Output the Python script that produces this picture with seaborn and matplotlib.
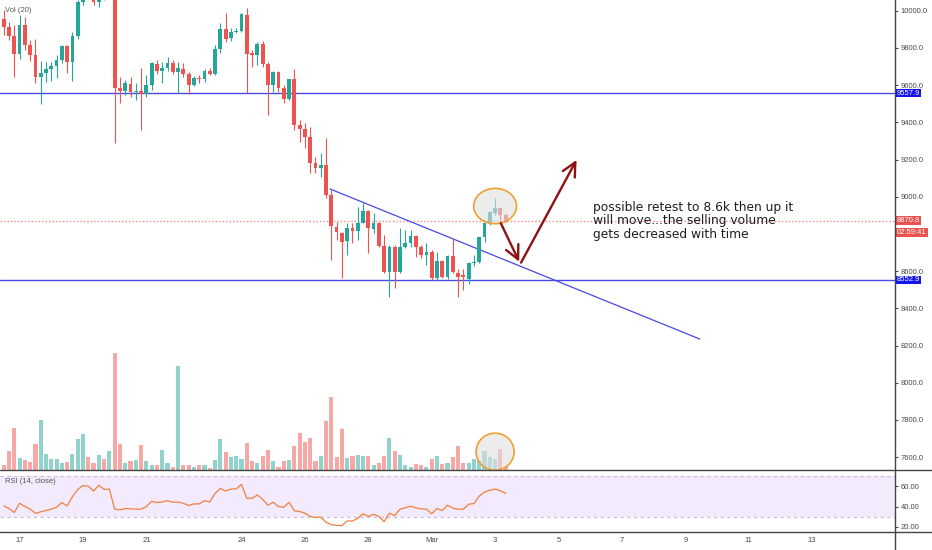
import numpy as np
import pandas as pd
import matplotlib.pyplot as plt
from matplotlib.patches import Ellipse
from matplotlib.lines import Line2D
import seaborn as sns

# ==========================================================
# BTC 4h candles, 16 Feb 12:00 -> 3 Mar 08:00
# ==========================================================

start_time = "2020-02-16 12:00"

opens = [
    9956, 9913, 9864, 9768, 9924, 9816, 9762, 9644, 9666, 9687,
    9703, 9735, 9811, 9725, 9864, 10047, 10090, 10085, 10049, 10080,
    10065, 10095, 9585, 9569, 9606, 9563, 9569, 9553, 9601, 9714,
    9676, 9692, 9719, 9671, 9687, 9660, 9601, 9639, 9633, 9676,
    9660, 9795, 9902, 9854, 9886, 9891, 9977, 9773, 9762, 9821,
    9714, 9601, 9671, 9585, 9526, 9633, 9386, 9365, 9324, 9183,
    9153, 9171, 9010, 8839, 8807, 8762, 8831, 8818, 8861, 8924,
    8825, 8861, 8737, 8594, 8732, 8594, 8732, 8750, 8789, 8732,
    8687, 8705, 8562, 8655, 8570, 8682, 8592, 8580, 8556, 8643,
    8651, 8782, 8858, 8911, 8938, 8902,
]
highs = [
    10004, 9940, 9924, 9977, 9967, 9843, 9848, 9730, 9725, 9725,
    9762, 9816, 9815, 9886, 10058, 10112, 10130, 10122, 10110, 10120,
    10140, 10150, 9644, 9628, 9644, 9612, 9692, 9655, 9725, 9735,
    9725, 9752, 9735, 9725, 9719, 9671, 9649, 9655, 9687, 9692,
    9816, 9934, 9988, 9907, 9907, 9988, 10015, 9789, 9832, 9838,
    9725, 9675, 9675, 9601, 9635, 9687, 9413, 9397, 9377, 9216,
    9235, 9316, 9037, 8866, 8810, 8858, 8858, 8947, 8965, 8929,
    8911, 8865, 8795, 8741, 8741, 8831, 8821, 8821, 8795, 8741,
    8752, 8714, 8705, 8660, 8687, 8777, 8610, 8610, 8651, 8687,
    8785, 8866, 8922, 8992, 8947, 8911,
]
lows = [
    9870, 9843, 9644, 9741, 9789, 9730, 9612, 9499, 9617, 9623,
    9639, 9719, 9666, 9623, 9848, 10031, 10070, 10031, 10020, 10060,
    10062, 9289, 9504, 9547, 9536, 9520, 9359, 9536, 9574, 9660,
    9612, 9676, 9660, 9558, 9644, 9553, 9596, 9612, 9617, 9655,
    9655, 9773, 9832, 9838, 9881, 9886, 9558, 9698, 9709, 9698,
    9440, 9563, 9563, 9504, 9520, 9359, 9295, 9262, 9128, 9126,
    9108, 8994, 8660, 8768, 8562, 8687, 8750, 8768, 8858, 8696,
    8804, 8730, 8589, 8463, 8508, 8590, 8725, 8732, 8678, 8671,
    8633, 8553, 8553, 8563, 8556, 8592, 8463, 8499, 8531, 8628,
    8644, 8759, 8848, 8902, 8858, 8862,
]
closes = [
    9913, 9864, 9768, 9924, 9816, 9762, 9644, 9666, 9687, 9703,
    9735, 9811, 9725, 9864, 10047, 10090, 10085, 10049, 10080, 10065,
    10095, 9585, 9569, 9612, 9563, 9569, 9553, 9601, 9719, 9676,
    9692, 9719, 9671, 9692, 9660, 9601, 9639, 9633, 9676, 9660,
    9795, 9902, 9848, 9886, 9891, 9983, 9768, 9762, 9821, 9714,
    9601, 9671, 9585, 9526, 9633, 9386, 9365, 9324, 9183, 9153,
    9171, 9010, 8843, 8812, 8759, 8831, 8818, 8861, 8924, 8831,
    8861, 8737, 8594, 8732, 8594, 8732, 8750, 8789, 8732, 8687,
    8705, 8562, 8655, 8570, 8682, 8597, 8570, 8567, 8643, 8651,
    8782, 8858, 8920, 8938, 8902, 8870.8,
]
volumes = [
    15, 57, 125, 35, 30, 24, 78, 150, 47, 33,
    32, 20, 24, 47, 92, 109, 38, 21, 45, 34,
    57, 350, 78, 21, 26, 30, 74, 26, 14, 14,
    61, 21, 9, 312, 14, 16, 9, 14, 14, 6,
    30, 93, 54, 40, 41, 32, 80, 26, 21, 43,
    60, 28, 10, 26, 30, 72, 110, 84, 96, 28,
    43, 147, 219, 39, 122, 36, 41, 45, 41, 42,
    16, 22, 41, 96, 57, 45, 14, 10, 18, 16,
    9, 32, 42, 18, 22, 40, 71, 22, 20, 32,
    28, 58, 39, 34, 62, 10,
]
rsi = [
    40.7, 38.1, 34.2, 43.3, 40.1, 37.5, 33.3, 34.9, 36.2, 37.5,
    39.4, 44.0, 40.7, 49.8, 57.0, 60.9, 60.2, 55.4, 61.2, 57.0,
    57.3, 37.5, 36.8, 38.1, 37.8, 37.5, 37.5, 40.1, 45.3, 44.0,
    44.6, 45.9, 44.3, 44.6, 43.3, 41.1, 42.7, 42.7, 45.9, 44.6,
    53.1, 58.0, 55.4, 57.3, 57.6, 61.9, 48.2, 48.2, 51.5, 47.2,
    41.4, 44.3, 40.1, 39.4, 44.3, 35.9, 35.2, 33.6, 30.3, 29.3,
    29.7, 24.5, 22.2, 21.5, 21.2, 25.8, 25.8, 28.4, 32.9, 30.3,
    32.3, 30.3, 25.1, 33.6, 31.0, 37.5, 38.8, 40.4, 38.8, 37.8,
    37.5, 32.9, 38.1, 36.2, 41.4, 38.5, 37.5, 37.5, 42.4, 43.0,
    50.5, 54.4, 56.3, 57.3, 55.7, 53.1,
]

tick_dates = [
    "2020-02-17", "2020-02-19", "2020-02-21", "2020-02-24", "2020-02-26",
    "2020-02-28", "2020-03-01", "2020-03-03", "2020-03-05", "2020-03-07",
    "2020-03-09", "2020-03-11", "2020-03-13",
]
tick_labels = ["17", "19", "21", "24", "26", "28", "Mar", "3", "5", "7", "9", "11", "13"]

price_ticks = [7600, 7800, 8000, 8200, 8400, 8600, 8800, 9000, 9200, 9400, 9600, 9800, 10000]
hidden_ticks = [8800]  # covered by the countdown tag

resistance = 9557.9
support = 8552.9
last_price = 8870.8
countdown = "02:59:41"

trend_dates = ["2020-02-26 19:00", "2020-03-09 11:00"]
trend_prices = [9042, 8235]

arrow_down = [("2020-03-03 04:20", 8858), ("2020-03-03 18:15", 8651)]
arrow_up = [("2020-03-03 19:40", 8646), ("2020-03-05 13:40", 9198)]

note = ("possible retest to 8.6k then up it\n"
        "will move...the selling volume\n"
        "gets decreased with time")
note_pos = ("2020-03-06 02:00", 8870)

# ==========================================================
# Style
# ==========================================================

sns.set_style("white")
plt.rcParams["font.family"] = ["Liberation Sans", "DejaVu Sans"]

GREEN = "#26a69a"
RED = "#ef5350"
BLUE = "#4848e8"
TEXT = "#4a4a4a"
ARROW = "#8e1111"

t0 = pd.Timestamp("2020-02-17")


def day(s):
    return (pd.Timestamp(s) - t0) / pd.Timedelta(days=1)


times = pd.date_range(start_time, periods=len(closes), freq="4h")
x = ((times - t0) / pd.Timedelta(days=1)).to_numpy()

o = np.array(opens, dtype=float)
h = np.array(highs, dtype=float)
l = np.array(lows, dtype=float)
c = np.array(closes, dtype=float)
up = c >= o
colors = np.where(up, GREEN, RED)

W, H = 932, 550
fig = plt.figure(figsize=(W / 100, H / 100), dpi=100)
fig.patch.set_facecolor("white")

main_rect = [0, 80 / H, 895 / W, 470 / H]
ax_vol = fig.add_axes(main_rect)
ax = fig.add_axes(main_rect, sharex=ax_vol)
ax_rsi = fig.add_axes([0, 18 / H, 895 / W, 62 / H], sharex=ax_vol)
ax.patch.set_alpha(0)

# ==========================================================
# Volume
# ==========================================================

ax_vol.bar(x, volumes, width=0.13, color=colors, alpha=0.5, lw=0)
ax_vol.set_ylim(0, 1410)
ax_vol.set_yticks([])
ax_vol.add_patch(Ellipse((day("2020-03-03"), 55), 1.2, 111,
                         facecolor=(0.88, 0.88, 0.88, 0.6),
                         edgecolor="#f0a030", lw=1.2, zorder=5))

# ==========================================================
# Candles
# ==========================================================

ax.axhline(resistance, color=BLUE, lw=1, zorder=1)
ax.axhline(support, color=BLUE, lw=1, zorder=1)
ax.axhline(last_price, color="#f08a86", lw=1, ls=(0, (1, 1.5)), zorder=1)

ax.vlines(x, l, h, colors=colors, lw=0.8, zorder=3)
body_low = np.minimum(o, c)
body_h = np.maximum(np.abs(c - o), 4)
ax.bar(x, body_h, bottom=body_low, width=0.12, color=colors, lw=0, zorder=3)

ax.plot([day(d) for d in trend_dates], trend_prices, color=BLUE, lw=0.9, zorder=2)

ax.add_patch(Ellipse((day("2020-03-03"), 8950), 1.35, 190,
                     facecolor=(0.88, 0.88, 0.88, 0.6),
                     edgecolor="#f0a030", lw=1.2, zorder=5))

for (d0, p0), (d1, p1) in [arrow_down, arrow_up]:
    ax.annotate("", xy=(day(d1), p1), xytext=(day(d0), p0),
                arrowprops=dict(arrowstyle="->,head_length=0.7,head_width=0.35",
                                color=ARROW, lw=1.7, shrinkA=0, shrinkB=0,
                                mutation_scale=14),
                zorder=6)

ax.text(day(note_pos[0]), note_pos[1], note, family="DejaVu Sans",
        fontsize=8.8, color="#1e1e1e", va="center", ha="left",
        linespacing=1.05, zorder=6)

ax.set_ylim(7531, 10058)
ax.yaxis.tick_right()
ax.set_yticks(price_ticks)
ax.set_yticklabels(["" if v in hidden_ticks else f"{v:.1f}" for v in price_ticks])
ax.tick_params(axis="y", labelsize=5.5, colors=TEXT, length=2, pad=2, width=0.8)
ax.tick_params(axis="x", bottom=False, labelbottom=False)
ax_vol.tick_params(axis="x", bottom=False, labelbottom=False)

ytr = ax.get_yaxis_transform()
tag_style = dict(transform=ytr, ha="left", va="center", fontsize=5.5,
                 color="white", clip_on=False, zorder=10)
for price, col in [(resistance, "#1414f0"), (support, "#1414f0"), (last_price, "#e9524f")]:
    ax.text(1 + 2 / 895, price, f"{price:.1f}",
            bbox=dict(boxstyle="square,pad=0.12", fc=col, ec="none"), **tag_style)
ax.annotate(countdown, xy=(1, last_price), xycoords=ytr, xytext=(1.5, -8.2),
            textcoords="offset points", ha="left", va="center", fontsize=5.5,
            color="white", annotation_clip=False, zorder=10,
            bbox=dict(boxstyle="square,pad=0.12", fc="#e9524f", ec="none"))

ax.text(5 / 895, 1 - 11 / 470, "Vol (20)", transform=ax.transAxes,
        fontsize=5.5, color="#555555", va="center")

# ==========================================================
# RSI
# ==========================================================

ax_rsi.axhspan(30, 70, color="#f3eafd", lw=0)
ax_rsi.axhline(70, color="#c8bcd8", lw=0.8, ls=(0, (3, 3)))
ax_rsi.axhline(30, color="#c8bcd8", lw=0.8, ls=(0, (3, 3)))
sns.lineplot(x=x, y=rsi, ax=ax_rsi, color="#f0803f", lw=0.9)
ax_rsi.set_ylim(14.9, 76.2)
ax_rsi.yaxis.tick_right()
ax_rsi.set_yticks([20, 40, 60])
ax_rsi.yaxis.set_major_formatter("{x:.2f}")
ax_rsi.tick_params(axis="y", labelsize=5.5, colors=TEXT, length=2, pad=2, width=0.8)
ax_rsi.set_xticks([day(d) for d in tick_dates])
ax_rsi.set_xticklabels(tick_labels)
ax_rsi.tick_params(axis="x", labelsize=5.5, colors=TEXT, length=2, pad=1.5, width=0.8)
ax_rsi.set_xlim(-0.618, 27.615)
ax_rsi.set_xlabel("")
ax_rsi.set_ylabel("")
ax_rsi.text(5 / 895, 1 - 11.7 / 62, "RSI (14, close)", transform=ax_rsi.transAxes,
            fontsize=5.5, color="#555555", va="center")

for a in (ax, ax_vol, ax_rsi):
    for s in a.spines.values():
        s.set_visible(False)

# panel borders and price scale line
for yy in (80 / H, 18 / H):
    fig.add_artist(Line2D([0, 1], [yy, yy], transform=fig.transFigure, color="#444444", lw=1))
fig.add_artist(Line2D([895 / W, 895 / W], [0, 1], transform=fig.transFigure, color="#444444", lw=1))

fig.savefig("out.png", dpi=100)
plt.close(fig)
